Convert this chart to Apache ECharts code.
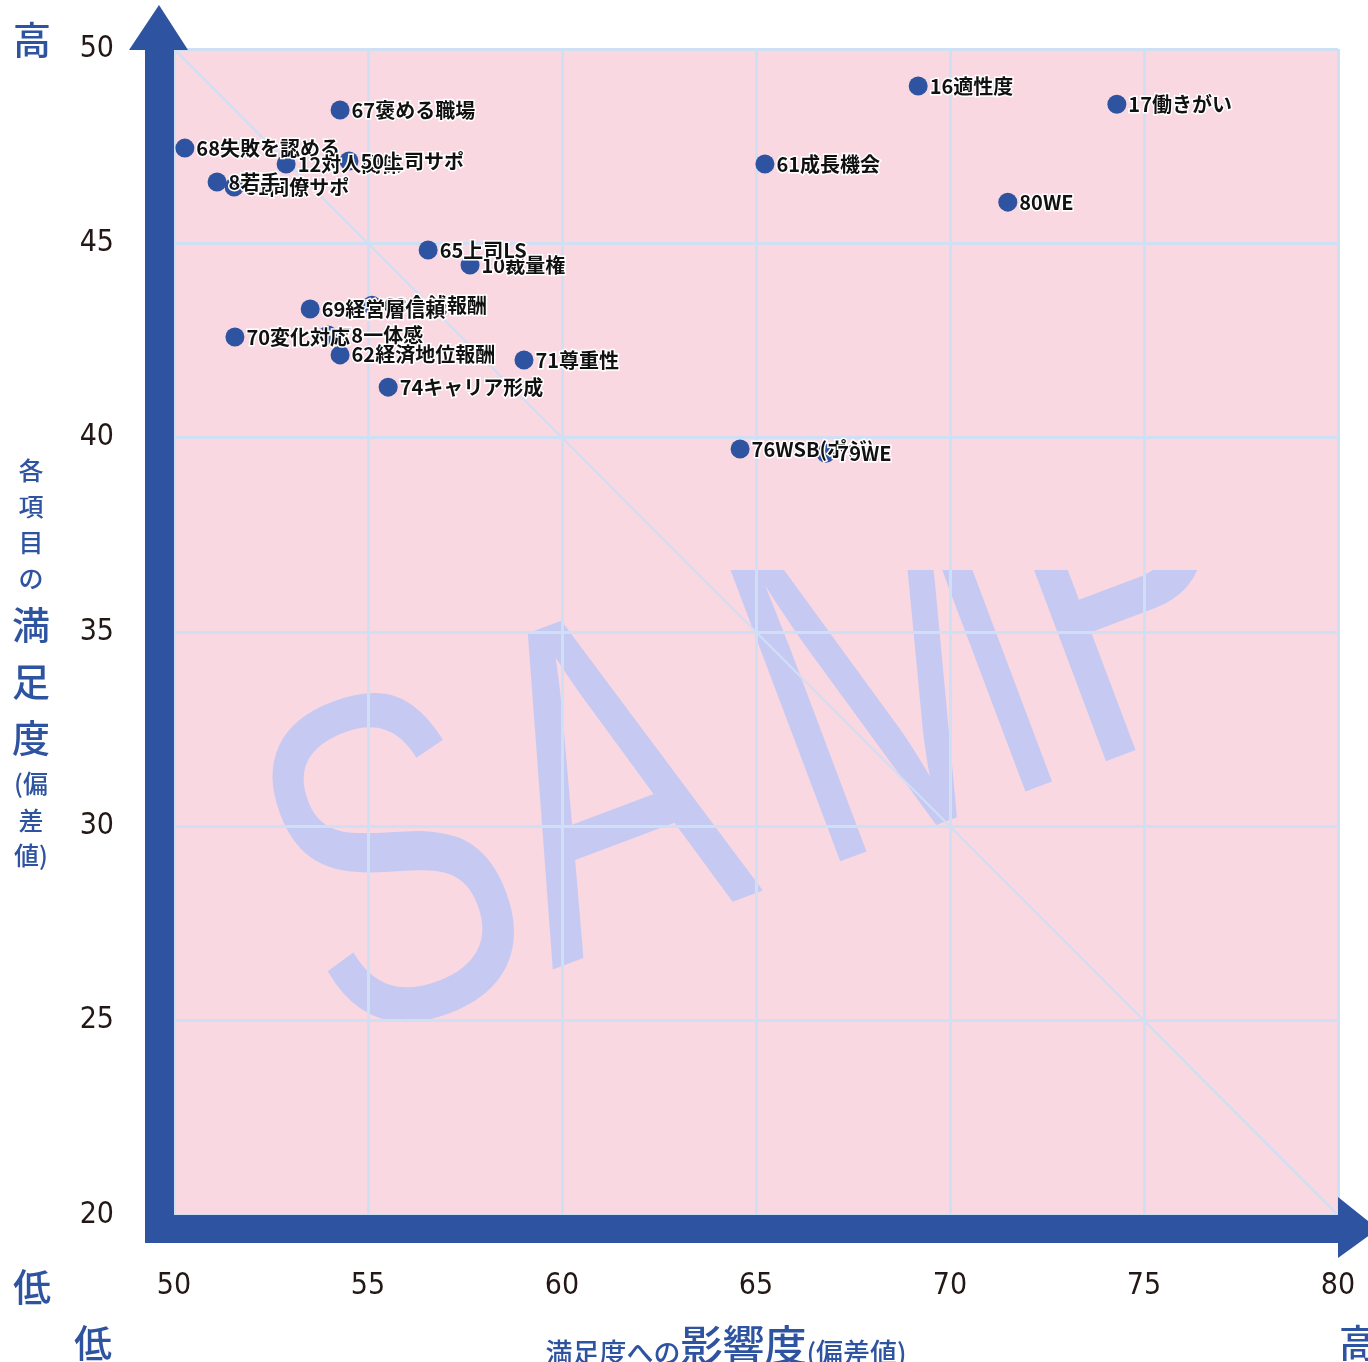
<!DOCTYPE html>
<html>
<head>
<meta charset="utf-8">
<script src="https://cdn.jsdelivr.net/npm/echarts@6/dist/echarts.min.js"></script>
<style>
html, body { margin: 0; padding: 0; background: #fff; }
#main { width: 1368px; height: 1362px; }
</style>
</head>
<body>
<div id="main"></div>
<script>
// 項目名（描画順 = 重なり順）
var itemNames = [
  "16適性度", "17働きがい", "61成長機会", "80WE", "67褒める職場", "68失敗を認める",
  "12対人関係", "50上司サポ", "51同僚サポ", "8若手", "10裁量権", "65上司LS",
  "63金銭報酬", "69経営層信頼", "78一体感", "70変化対応", "62経済地位報酬", "71尊重性",
  "74キャリア形成", "76WSB(ポジ)", "79WE"
];
// 満足度への影響度（偏差値） = x
var impactValues = [
  69.18, 74.30, 65.23, 71.49, 54.28, 50.28,
  52.89, 54.51, 51.55, 51.11, 57.63, 56.55,
  55.10, 53.51, 53.97, 51.57, 54.28, 59.02,
  55.52, 64.59, 66.80
];
// 各項目の満足度（偏差値） = y
var satisfactionValues = [
  49.05, 48.58, 47.04, 46.06, 48.43, 47.45,
  47.04, 47.12, 46.45, 46.58, 44.44, 44.83,
  43.41, 43.31, 42.64, 42.59, 42.13, 42.00,
  41.30, 39.71, 39.60
];
var xTicks = [50, 55, 60, 65, 70, 75, 80];
var yTicks = [20, 25, 30, 35, 40, 45, 50];

var blue = "#2e53a0";
var pink = "#f9d8e2";
var gridBlue = "#cfdff4";

var points = itemNames.map(function (n, i) {
  return { name: n, value: [impactValues[i], satisfactionValues[i]] };
});
var xMin = xTicks[0], xMax = xTicks[xTicks.length - 1];
var yMin = yTicks[0], yMax = yTicks[yTicks.length - 1];

var gl = 174, gt = 49, gr = 1338, gb = 1215;

var myChart = echarts.init(document.getElementById("main"));

function ch(t, x, y, size) {
  return {
    type: "text", x: x, y: y, z: 20,
    style: { text: t, fill: blue, fontSize: size, fontFamily: "Noto Sans CJK JP",
      fontWeight: 500, align: "center", verticalAlign: "middle" }
  };
}

// 透かし文字（1文字ずつ、文字列方向のずらし量で配置）
var wmRot = 0.36;
var wmLetters = ["S", "A", "M", "P"];
var wmOffsets = [0, 226, 506, 790];
var wm = wmLetters.map(function (c, i) {
  return {
    type: "text", z: -20,
    x: 295 + wmOffsets[i] * Math.cos(wmRot),
    y: 928 - wmOffsets[i] * Math.sin(wmRot),
    rotation: wmRot, scaleX: 0.72,
    style: { text: c, fill: "#c6caf3", fontSize: 470, fontFamily: "Liberation Sans",
      align: "left", verticalAlign: "middle" }
  };
});

myChart.setOption({
  animation: false,
  backgroundColor: "#fff",
  grid: { left: gl, top: gt, right: 1368 - gr, bottom: 1362 - gb },
  xAxis: {
    type: "value", min: xMin, max: xMax, interval: 5,
    axisLine: { show: false }, axisTick: { show: false },
    axisLabel: { margin: 56, fontSize: 30, color: "#231815",
      fontFamily: "Liberation Sans Narrow, DejaVu Sans Condensed, sans-serif" },
    splitLine: { lineStyle: { color: gridBlue, width: 3 } }
  },
  yAxis: {
    type: "value", min: yMin, max: yMax, interval: 5,
    axisLine: { show: false }, axisTick: { show: false },
    axisLabel: { margin: 60, fontSize: 30, color: "#231815",
      fontFamily: "Liberation Sans Narrow, DejaVu Sans Condensed, sans-serif" },
    splitLine: { lineStyle: { color: gridBlue, width: 3 } }
  },
  graphic: [
    // 背景
    { type: "rect", z: -30, shape: { x: gl, y: gt, width: gr - gl, height: gb - gt }, style: { fill: pink } }
  ].concat(wm).concat([
    { type: "rect", z: -10, shape: { x: gl, y: gt, width: gr - gl, height: 570 - gt }, style: { fill: pink } },
    // 矢印
    { type: "rect", z: 10, shape: { x: 145, y: 48, width: gl - 145, height: 1243 - 48 }, style: { fill: blue } },
    { type: "polygon", z: 10, shape: { points: [[129, 50], [188, 50], [159, 5]] }, style: { fill: blue } },
    { type: "rect", z: 10, shape: { x: 145, y: gb, width: gr - 145 + 1, height: 1243 - gb }, style: { fill: blue } },
    { type: "polygon", z: 10, shape: { points: [[1338, 1197], [1338, 1258], [1378, 1229]] }, style: { fill: blue } },
    // 高・低
    ch("高", 32, 40, 38),
    ch("低", 32, 1287, 38),
    ch("低", 93, 1343, 38),
    ch("高", 1358, 1343, 38),
    // 縦軸名
    ch("各", 31, 470, 25), ch("項", 31, 506, 25), ch("目", 31, 542, 25), ch("の", 31, 578, 25),
    ch("満", 31, 625, 38), ch("足", 31, 682, 38), ch("度", 31, 738, 38),
    ch("(偏", 31, 783, 25), ch("差", 31, 820, 25), ch("値)", 31, 855, 25),
    // 横軸名
    { type: "text", x: 726, y: 1345, z: 20,
      style: { text: "{s|満足度への}{b|影響度}{s|(偏差値)}", align: "center", verticalAlign: "middle",
        rich: {
          s: { fontSize: 27, fill: blue, fontFamily: "Noto Sans CJK JP", fontWeight: 500, verticalAlign: "bottom", padding: [8, 0, 0, 0] },
          b: { fontSize: 42, fill: blue, fontFamily: "Noto Sans CJK JP", fontWeight: 500 }
        } } }
  ]),
  series: [
    {
      type: "line",
      data: [[xMin, yMax], [xMax, yMin]],
      symbol: "none", silent: true, z: 1,
      lineStyle: { color: gridBlue, width: 2 }
    },
    {
      type: "scatter",
      data: points,
      symbolSize: 19,
      itemStyle: { color: blue, opacity: 1 },
      label: {
        show: true, position: "right", distance: 2,
        formatter: "{b}", color: "#111", fontSize: 20, fontWeight: "bold",
        fontFamily: "Noto Sans CJK JP",
        textBorderColor: "#fff", textBorderWidth: 3
      }
    }
  ]
});
</script>
</body>
</html>
